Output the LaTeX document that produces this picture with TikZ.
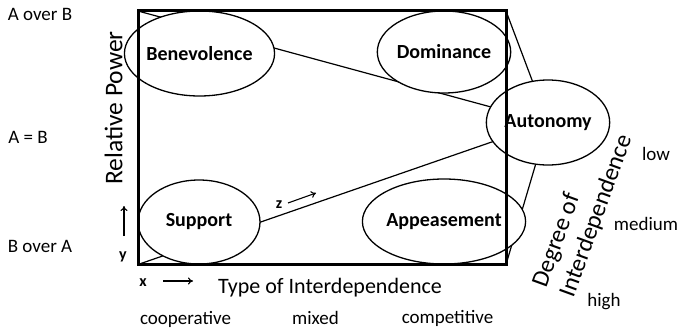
\documentclass[tikz,border=0pt]{standalone}
\usepackage{fontspec}
\setmainfont{Carlito}
\usetikzlibrary{shapes.geometric,arrows.meta}
\pgfdeclarelayer{bg}
\pgfdeclarelayer{fg}
\pgfsetlayers{bg,main,fg}
\begin{document}
\begin{tikzpicture}[x=1pt,y=-1pt,
  quad/.style={ellipse,draw,line width=1.3pt,fill=white,inner sep=0pt,
    font=\fontsize{20}{22}\selectfont\bfseries},
  lbl/.style={font=\fontsize{19}{22}\selectfont,inner sep=0pt},
  axis/.style={font=\fontsize{22}{26}\selectfont,inner sep=0pt},
  tag/.style={font=\fontsize{16}{18}\selectfont\bfseries,inner sep=0pt},
  edge/.style={line width=1.2pt},
  pointer/.style={line width=1.1pt,-{To[length=5pt,width=7pt]}}]
\useasboundingbox (0,0) rectangle (679,329);

% corners of the front face
\coordinate (tl) at (138,11);
\coordinate (tr) at (506,11);
\coordinate (br) at (506,264.5);
\coordinate (bl) at (138,264.5);

% the five relationship types
\node[quad,minimum width=123pt,minimum height=85pt] (ben) at (199.5,53.5) {Benevolence};
\node[quad,minimum width=124pt,minimum height=82pt] (dom) at (444,52) {Dominance};
\node[quad,minimum width=120pt,minimum height=85pt] (aut) at (548,122.5) {Autonomy};
\node[quad,minimum width=122pt,minimum height=84pt] (sup) at (199,222) {Support};
\node[quad,minimum width=124pt,minimum height=85pt] (app) at (444,221.5) {Appeasement};

% edges of the pyramid, running from each corner to the apex
\begin{pgfonlayer}{bg}
  \draw[edge] (tl) -- (aut.center);
  \draw[edge] (tr) -- (aut.center);
  \draw[edge] (br) -- (aut.center);
  \draw[edge] (bl) -- (aut.center);
\end{pgfonlayer}

% front face
\begin{pgfonlayer}{fg}
  \draw[line width=3pt] (tl) -- (tr) -- (br) -- (bl) -- cycle;
\end{pgfonlayer}

% relative power scale
\node[lbl,anchor=base] (aob) at (40,21) {A over B};
\node[lbl,anchor=base] (aeb) at (28,143) {A = B};
\node[lbl,anchor=base] (boa) at (40,252) {B over A};
\node[axis,font=\fontsize{25.5}{28}\selectfont,rotate=90] (rp) at (113.5,108) {Relative Power};

% type of interdependence scale
\node[axis,anchor=base] (toi) at (330,293) {Type of Interdependence};
\node[lbl,anchor=base] (coop) at (185.5,324) {cooperative};
\node[lbl,anchor=base] (mix) at (315.5,324) {mixed};
\node[lbl,anchor=base] (comp) at (447.5,323) {competitive};

% degree of interdependence scale
\node[axis,font=\fontsize{24.5}{29}\selectfont,rotate=70,align=left] (doi) at (583,211) {Degree of\\Interdependence};
\node[lbl,anchor=base] (low) at (656,160) {low};
\node[lbl,anchor=base] (med) at (646,230) {medium};
\node[lbl,anchor=base] (high) at (604,306) {high};

% axis markers
\node[tag] (ylab) at (123,257) {y};
\coordinate (yfrom) at (124,236);
\coordinate (yto) at (124,206);
\draw[pointer] (yfrom) -- (yto);
\node[tag,anchor=base] (xlab) at (143,286) {x};
\coordinate (xfrom) at (163,281);
\coordinate (xto) at (193,281);
\draw[pointer] (xfrom) -- (xto);
\node[tag] (zlab) at (279,205) {z};
\coordinate (zfrom) at (288,203);
\coordinate (zto) at (316,193);
\draw[pointer] (zfrom) -- (zto);
\end{tikzpicture}
\end{document}
